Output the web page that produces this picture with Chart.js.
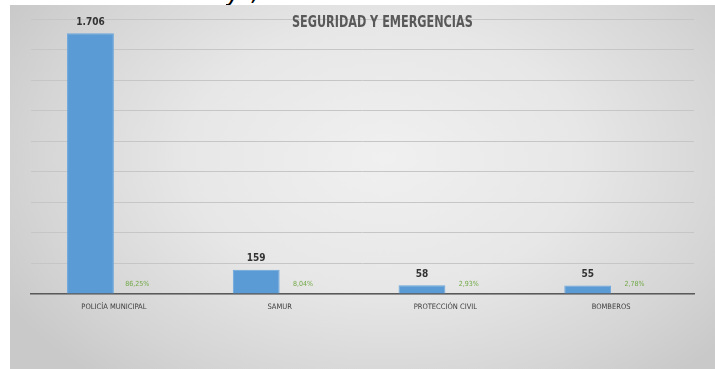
<!DOCTYPE html>
<html lang="es">
<head>
<meta charset="utf-8">
<title>Seguridad y Emergencias</title>
<script src="https://cdn.jsdelivr.net/npm/chart.js@4.4.1/dist/chart.umd.min.js"></script>
<style>
    html, body { margin: 0; padding: 0; background: #ffffff; }
    body { width: 715px; height: 369px; position: relative; overflow: hidden; }
    /* recorte del texto de la línea anterior */
    #cabecera { position: absolute; left: 226px; top: 0; width: 50px; height: 9px; overflow: hidden; }
    #cabecera span { position: absolute; left: 0; top: -22px; font: italic 26px "DejaVu Sans", sans-serif; color: #000; line-height: 26px; letter-spacing: 12px; }
    #marco {
        position: absolute; left: 10px; top: 5px; width: 705px; height: 364px;
        background: radial-gradient(ellipse 62% 80% at 53% 42%, #f0f0f0 0%, #e7e7e7 45%, #d5d5d5 80%, #c9c9c9 100%);
    }
    #titulo {
        position: absolute; left: 0; width: 745px; top: 7px; text-align: center;
        font: bold 16px "DejaVu Sans Condensed", "DejaVu Sans", sans-serif; color: #595959;
        transform: scaleX(0.78); transform-origin: 372px 0;
    }
    canvas { position: absolute; left: 0; top: 0; }
</style>
</head>
<body>
<div id="cabecera"><span>y,</span></div>
<div id="marco">
    <canvas id="graficoSeguridad" width="705" height="364"></canvas>
    <div id="titulo">SEGURIDAD Y EMERGENCIAS</div>
</div>
<script>
// Datos
const servicios = ['POLICÍA MUNICIPAL', 'SAMUR', 'PROTECCIÓN CIVIL', 'BOMBEROS'];
const intervenciones = [1706, 159, 58, 55];
const porcentajes = [86.25, 8.04, 2.93, 2.78];
const ejeMax = 1800;
const ejePaso = 200;

const fuente = '"DejaVu Sans Condensed", "DejaVu Sans", sans-serif';

// 1706 -> "1.706"
function formatoMiles(v) {
    return String(v).replace(/\B(?=(\d{3})+(?!\d))/g, '.');
}

// Etiquetas de valor sobre las barras y porcentajes al pie
const etiquetas = {
    id: 'etiquetas',
    afterDatasetsDraw(chart) {
        const ctx = chart.ctx;
        const base = chart.scales.y.bottom;
        ctx.save();
        ctx.textAlign = 'center';
        ctx.textBaseline = 'bottom';

        chart.getDatasetMeta(0).data.forEach((bar, i) => {
            ctx.font = 'bold 10px ' + fuente;
            ctx.fillStyle = '#333333';
            ctx.fillText(formatoMiles(intervenciones[i]), bar.x, bar.y - 6);
        });

        chart.getDatasetMeta(1).data.forEach((bar, i) => {
            ctx.font = '7px ' + fuente;
            ctx.fillStyle = '#70a845';
            ctx.fillText(porcentajes[i].toFixed(2).replace('.', ',') + '%', bar.x, base - 6);
        });
        ctx.restore();
    }
};

new Chart(document.getElementById('graficoSeguridad'), {
    type: 'bar',
    data: {
        labels: servicios,
        datasets: [{
            label: 'Intervenciones',
            data: intervenciones,
            backgroundColor: '#5b9bd5',
            borderColor: '#6aa6dc',
            borderWidth: 1,
            categoryPercentage: 0.565,
            barPercentage: 1.0,
            yAxisID: 'y'
        }, {
            label: 'Porcentaje',
            data: porcentajes,
            backgroundColor: 'rgba(0,0,0,0)',
            categoryPercentage: 0.565,
            barPercentage: 1.0,
            yAxisID: 'yPct'
        }]
    },
    options: {
        responsive: false,
        animation: false,
        layout: { padding: { left: 21, right: 21, top: 14, bottom: 0 } },
        plugins: {
            legend: { display: false },
            title: { display: false },
            tooltip: { enabled: false }
        },
        scales: {
            x: {
                grid: { display: false },
                border: { color: '#5a5a5a', width: 1.5 },
                ticks: {
                    color: '#404040',
                    font: { family: fuente, size: 7.5 },
                    padding: 1,
                    maxRotation: 0,
                    autoSkip: false
                },
                afterFit: scale => { scale.height = 75; }
            },
            y: {
                min: 0,
                max: ejeMax,
                ticks: { display: false, stepSize: ejePaso },
                grid: { color: '#c6c6c6', lineWidth: 1, drawTicks: false },
                border: { display: false },
                afterFit: scale => { scale.width = 0; }
            },
            yPct: {
                display: false,
                min: 0,
                max: 100
            }
        }
    },
    plugins: [etiquetas]
});
</script>
</body>
</html>
